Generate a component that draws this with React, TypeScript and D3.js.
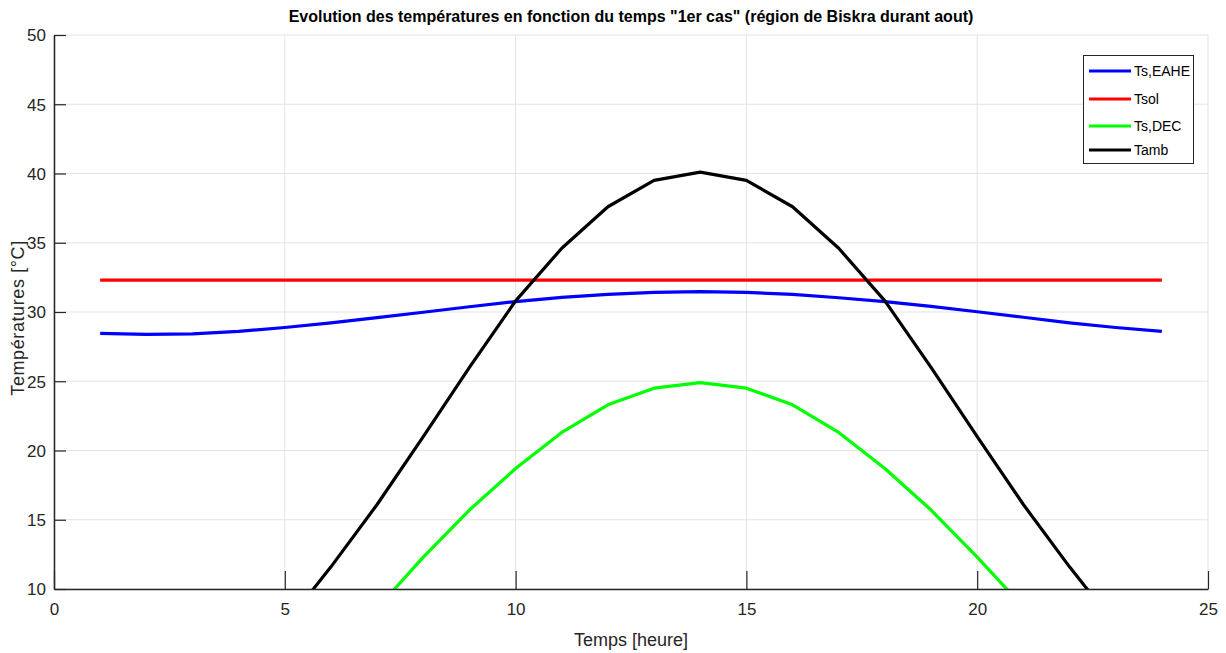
import React, { useRef, useEffect } from "react";
import * as d3 from "d3";

// heures de la journée
const hours = [1, 2, 3, 4, 5, 6, 7, 8, 9, 10, 11, 12, 13, 14, 15, 16, 17, 18, 19, 20, 21, 22, 23, 24];

// températures (°C)
const tsEahe = [28.45, 28.38, 28.42, 28.6, 28.88, 29.22, 29.6, 29.98, 30.38, 30.75, 31.05, 31.27, 31.42, 31.47, 31.42, 31.27, 31.03, 30.75, 30.4, 30.02, 29.62, 29.22, 28.88, 28.6];
const tsol = [32.3, 32.3, 32.3, 32.3, 32.3, 32.3, 32.3, 32.3, 32.3, 32.3, 32.3, 32.3, 32.3, 32.3, 32.3, 32.3, 32.3, 32.3, 32.3, 32.3, 32.3, 32.3, 32.3, 32.3];
const tsDec = [0.1, -0.3, 0.1, 1.4, 3.4, 5.8, 8.6, 12.3, 15.7, 18.7, 21.3, 23.3, 24.5, 24.9, 24.5, 23.3, 21.3, 18.7, 15.7, 12.3, 8.7, 5.8, 3.4, 1.4];
const tamb = [2.6, 1.9, 2.6, 4.4, 7.4, 11.6, 16.1, 21.0, 26.0, 30.8, 34.6, 37.6, 39.5, 40.1, 39.5, 37.6, 34.6, 30.8, 26.0, 21.0, 16.1, 11.6, 7.4, 4.4];

const xTicks = [0, 5, 10, 15, 20, 25];
const yTicks = [10, 15, 20, 25, 30, 35, 40, 45, 50];

const seriesNames = ["Ts,EAHE", "Tsol", "Ts,DEC", "Tamb"];
const seriesColors = ["#0000ff", "#ff0000", "#00ff00", "#000000"];

const W = 1226;
const H = 653;
const FONT = "'Liberation Sans', Arial, sans-serif";

const App = () => {
  const svgRef = useRef<SVGSVGElement>(null);

  useEffect(() => {
    if (!svgRef.current) return;
    const svg = d3.select(svgRef.current);
    svg.selectAll("*").remove();

    const margin = { left: 54, right: 1208, top: 35, bottom: 589 };

    const x = d3.scaleLinear().domain([0, 25]).range([margin.left, margin.right]);
    const y = d3.scaleLinear().domain([10, 50]).range([margin.bottom, margin.top]);

    svg.append("rect").attr("width", W).attr("height", H).attr("fill", "#fff");

    svg
      .append("defs")
      .append("clipPath")
      .attr("id", "plot-clip")
      .append("rect")
      .attr("x", margin.left)
      .attr("y", margin.top)
      .attr("width", margin.right - margin.left)
      .attr("height", margin.bottom - margin.top);

    // grille
    const grid = svg.append("g").attr("stroke", "#e3e3e3").attr("stroke-width", 1);
    grid
      .selectAll("line.gx")
      .data(xTicks)
      .join("line")
      .attr("x1", (d) => x(d))
      .attr("x2", (d) => x(d))
      .attr("y1", margin.top)
      .attr("y2", margin.bottom);
    grid
      .selectAll("line.gy")
      .data(yTicks)
      .join("line")
      .attr("x1", margin.left)
      .attr("x2", margin.right)
      .attr("y1", (d) => y(d))
      .attr("y2", (d) => y(d));

    // courbes
    const allSeries = [tsEahe, tsol, tsDec, tamb];
    const line = d3
      .line<number>()
      .x((d, i) => x(hours[i]))
      .y((d) => y(d));

    const plot = svg.append("g").attr("clip-path", "url(#plot-clip)");
    allSeries.forEach((s, k) => {
      plot
        .append("path")
        .datum(s)
        .attr("d", line)
        .attr("fill", "none")
        .attr("stroke", seriesColors[k])
        .attr("stroke-width", 3.2)
        .attr("stroke-linejoin", "round");
    });

    // axes
    const axisColor = "#262626";
    const xAxis = svg
      .append("g")
      .attr("transform", `translate(0,${margin.bottom})`)
      .call(d3.axisBottom(x).tickValues(xTicks).tickSizeInner(-18).tickSizeOuter(0).tickPadding(14));
    const yAxis = svg
      .append("g")
      .attr("transform", `translate(${margin.left},0)`)
      .call(d3.axisLeft(y).tickValues(yTicks).tickSizeInner(-12).tickSizeOuter(0).tickPadding(8));

    [xAxis, yAxis].forEach((a) => {
      a.select(".domain").attr("stroke", axisColor).attr("stroke-width", 1.5);
      a.selectAll(".tick line").attr("stroke", axisColor).attr("stroke-width", 1.2);
      a.selectAll(".tick text")
        .attr("fill", axisColor)
        .attr("font-family", FONT)
        .attr("font-size", 17);
    });
    yAxis.selectAll(".tick text").attr("dy", "0.35em");

    // titres
    svg
      .append("text")
      .attr("x", 631)
      .attr("y", 22)
      .attr("text-anchor", "middle")
      .attr("font-family", FONT)
      .attr("font-weight", "bold")
      .attr("font-size", 16)
      .attr("fill", "#000")
      .text('Evolution des températures en fonction du temps "1er cas" (région de Biskra durant aout)');

    svg
      .append("text")
      .attr("x", 631)
      .attr("y", 646)
      .attr("text-anchor", "middle")
      .attr("font-family", FONT)
      .attr("font-size", 18)
      .attr("fill", axisColor)
      .text("Temps [heure]");

    svg
      .append("text")
      .attr("transform", `translate(24,${(margin.top + margin.bottom) / 2 + 6}) rotate(-90)`)
      .attr("text-anchor", "middle")
      .attr("font-family", FONT)
      .attr("font-size", 18)
      .attr("letter-spacing", 0.6)
      .attr("fill", axisColor)
      .text("Températures [°C]");

    // légende
    const lg = svg.append("g");
    lg.append("rect")
      .attr("x", 1083.5)
      .attr("y", 55.5)
      .attr("width", 110)
      .attr("height", 108)
      .attr("fill", "#fff")
      .attr("stroke", "#262626")
      .attr("stroke-width", 1);
    const rowY = [71, 99, 126, 150];
    seriesNames.forEach((name, k) => {
      lg.append("line")
        .attr("x1", 1089)
        .attr("x2", 1131)
        .attr("y1", rowY[k])
        .attr("y2", rowY[k])
        .attr("stroke", seriesColors[k])
        .attr("stroke-width", 3.2);
      lg.append("text")
        .attr("x", 1134)
        .attr("y", rowY[k])
        .attr("dy", "0.35em")
        .attr("font-family", FONT)
        .attr("font-size", 14)
        .attr("fill", "#000")
        .text(name);
    });
  }, []);

  return <svg ref={svgRef} width={W} height={H} style={{ display: "block", position: "absolute", left: 0, top: 0 }}></svg>;
};

export default App;
